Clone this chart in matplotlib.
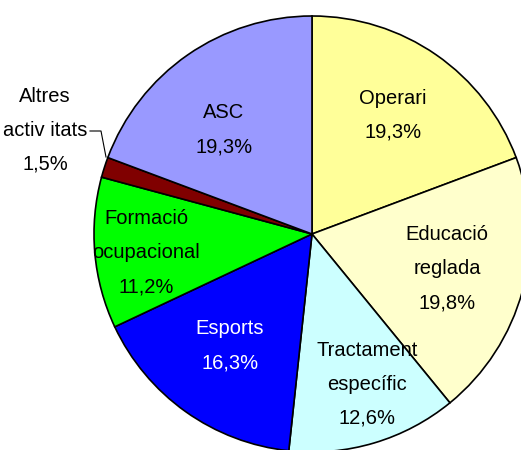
import matplotlib.pyplot as plt

labels = ["Operari", "Educació\nreglada", "Tractament\nespecífic", "Esports",
          "Formació\nocupacional", "Altres\nactiv itats", "ASC"]
values = [19.3, 19.8, 12.6, 16.3, 11.2, 1.5, 19.3]
colors = ["#FFFF99", "#FFFFCC", "#CCFFFF", "#0000FF", "#00FF00", "#800000", "#9999FF"]
text_colors = ["black", "black", "black", "white", "black", "black", "black"]

# label anchor points in pixel coords (y from top)
label_pos = [(393, 115), (447, 269), (367, 384), (230, 346), (146, 253), (45, 130), (224, 130)]

plt.rcParams['font.family'] = ['Liberation Sans', 'DejaVu Sans']

fig = plt.figure(figsize=(5.21, 4.5), dpi=100)
ax = fig.add_axes([0, 0, 1, 1])

ax.pie(values, colors=colors, startangle=90, counterclock=False,
       center=(312, 450 - 234), radius=218, frame=True,
       wedgeprops=dict(edgecolor='black', linewidth=1.2))
ax.set_xlim(0, 521)
ax.set_ylim(0, 450)
ax.axis('off')

for lab, v, (x, y), tc in zip(labels, values, label_pos, text_colors):
    txt = lab + "\n" + ("%.1f%%" % v).replace(".", ",")
    ax.text(x, 450 - y, txt, ha='center', va='center', fontsize=14.5,
            color=tc, linespacing=2.0)

# leader line for the small slice
ax.plot([90, 101, 106], [450 - 131, 450 - 131, 450 - 157], color='black', lw=0.8)

fig.savefig("out.png", dpi=100)
